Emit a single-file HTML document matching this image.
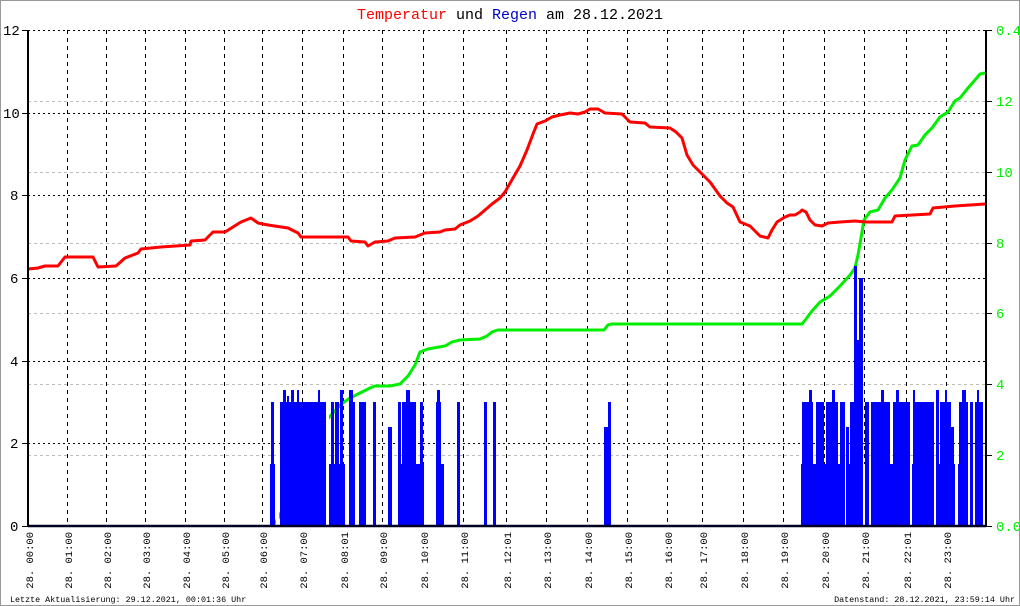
<!DOCTYPE html>
<html><head><meta charset="utf-8"><style>
html,body{margin:0;padding:0;background:#fff}
svg{display:block}
text{font-family:"Liberation Mono","DejaVu Sans Mono",monospace}
</style></head><body>
<svg width="1020" height="606" viewBox="0 0 1020 606" xmlns="http://www.w3.org/2000/svg">
<rect x="0.5" y="0.5" width="1019" height="605" fill="#fff" stroke="#999"/>
<text x="510" y="19" font-size="15" text-anchor="middle"><tspan fill="#f00">Temperatur</tspan> und <tspan fill="#00c">Regen</tspan> am 28.12.2021</text>
<g stroke="#bbb" stroke-width="1" stroke-dasharray="3,3">
<line x1="28" x2="986" y1="101.5" y2="101.5"/><line x1="28" x2="986" y1="172.5" y2="172.5"/><line x1="28" x2="986" y1="243.5" y2="243.5"/><line x1="28" x2="986" y1="313.5" y2="313.5"/><line x1="28" x2="986" y1="384.5" y2="384.5"/><line x1="28" x2="986" y1="455.5" y2="455.5"/>
</g>
<g stroke="#000" stroke-width="1" stroke-dasharray="2,3">
<line x1="28" x2="986" y1="30.5" y2="30.5"/><line x1="28" x2="986" y1="113.5" y2="113.5"/><line x1="28" x2="986" y1="195.5" y2="195.5"/><line x1="28" x2="986" y1="278.5" y2="278.5"/><line x1="28" x2="986" y1="361.5" y2="361.5"/><line x1="28" x2="986" y1="443.5" y2="443.5"/>
</g>
<g stroke="#000" stroke-width="1" stroke-dasharray="4,4">
<line y1="30" y2="526" x1="67.5" x2="67.5"/><line y1="30" y2="526" x1="106.5" x2="106.5"/><line y1="30" y2="526" x1="145.5" x2="145.5"/><line y1="30" y2="526" x1="185.5" x2="185.5"/><line y1="30" y2="526" x1="224.5" x2="224.5"/><line y1="30" y2="526" x1="262.5" x2="262.5"/><line y1="30" y2="526" x1="302.5" x2="302.5"/><line y1="30" y2="526" x1="343.5" x2="343.5"/><line y1="30" y2="526" x1="382.5" x2="382.5"/><line y1="30" y2="526" x1="423.5" x2="423.5"/><line y1="30" y2="526" x1="463.5" x2="463.5"/><line y1="30" y2="526" x1="506.5" x2="506.5"/><line y1="30" y2="526" x1="546.5" x2="546.5"/><line y1="30" y2="526" x1="587.5" x2="587.5"/><line y1="30" y2="526" x1="627.5" x2="627.5"/><line y1="30" y2="526" x1="667.5" x2="667.5"/><line y1="30" y2="526" x1="702.5" x2="702.5"/><line y1="30" y2="526" x1="743.5" x2="743.5"/><line y1="30" y2="526" x1="783.5" x2="783.5"/><line y1="30" y2="526" x1="824.5" x2="824.5"/><line y1="30" y2="526" x1="864.5" x2="864.5"/><line y1="30" y2="526" x1="906.5" x2="906.5"/><line y1="30" y2="526" x1="946.5" x2="946.5"/>
</g>
<polyline fill="none" stroke="#0e0" stroke-width="3" points="275,524 285,505 290,490 300,455 315,432 325,422 340,405 350,398 360,393 370,388 375,386 390,386 400,384 408,376 415,365 420,352 428,349 445,346 452,342 460,340 480,339 487,336 492,332 498,330 520,330 604,330 608,325 612,324 802,324 806,319 812,311 820,302 830,296 840,286 850,275 855,268 858,255 861,238 864,220 870,212 878,210 885,198 892,190 900,178 905,160 912,146 918,145 925,135 932,128 940,117 948,112 955,101 960,98 968,88 975,80 980,74 985,73"/>
<g fill="#00f">
<rect x="270" y="464" width="5" height="62"/><rect x="271" y="402" width="3" height="124"/>
<rect x="280" y="402" width="46" height="124"/><rect x="283" y="390" width="3" height="136"/><rect x="287" y="396" width="2" height="130"/>
<rect x="291" y="390" width="3" height="136"/><rect x="297" y="390" width="2" height="136"/>
<rect x="318" y="390" width="2" height="136"/>
<rect x="329" y="464" width="16" height="62"/>
<rect x="331" y="402" width="3" height="124"/><rect x="335" y="402" width="4" height="124"/><rect x="340" y="390" width="3" height="136"/>
<rect x="349" y="390" width="4" height="136"/><rect x="353" y="402" width="2" height="124"/><rect x="359" y="402" width="7" height="124"/>
<rect x="373" y="402" width="3" height="124"/><rect x="388" y="427" width="4" height="99"/>
<rect x="398" y="464" width="26" height="62"/>
<rect x="398" y="402" width="3" height="124"/><rect x="402" y="402" width="14" height="124"/><rect x="406" y="390" width="4" height="136"/><rect x="420" y="402" width="3" height="124"/>
<rect x="436" y="402" width="5" height="124"/><rect x="437" y="390" width="3" height="136"/><rect x="441" y="464" width="3" height="62"/>
<rect x="457" y="402" width="3" height="124"/><rect x="484" y="402" width="3" height="124"/><rect x="493" y="402" width="3" height="124"/>
<rect x="604" y="427" width="4" height="99"/><rect x="608" y="402" width="3" height="124"/>
<rect x="801" y="464" width="182" height="62"/>
<rect x="802" y="402" width="11" height="124"/><rect x="809" y="390" width="3" height="136"/>
<rect x="816" y="402" width="8" height="124"/><rect x="826" y="402" width="12" height="124"/><rect x="832" y="390" width="3" height="136"/><rect x="840" y="402" width="5" height="124"/>
<rect x="846" y="427" width="3" height="99"/><rect x="850" y="402" width="4" height="124"/>
<rect x="854" y="266" width="3" height="260"/><rect x="857" y="340" width="2" height="186"/><rect x="859" y="278" width="4" height="248"/>
<rect x="865" y="402" width="4" height="124"/><rect x="871" y="402" width="19" height="124"/><rect x="881" y="390" width="3" height="136"/>
<rect x="893" y="402" width="17" height="124"/><rect x="896" y="390" width="3" height="136"/>
<rect x="913" y="390" width="2" height="136"/><rect x="913" y="402" width="21" height="124"/>
<rect x="936" y="390" width="3" height="136"/>
<rect x="940" y="402" width="11" height="124"/><rect x="945" y="390" width="2" height="136"/><rect x="951" y="427" width="3" height="99"/>
<rect x="959" y="402" width="9" height="124"/><rect x="962" y="390" width="4" height="136"/><rect x="970" y="402" width="3" height="124"/><rect x="975" y="402" width="8" height="124"/><rect x="977" y="390" width="2" height="136"/>
</g>
<g fill="#fff">
<rect x="276" y="402" width="3" height="124"/><rect x="326" y="402" width="3" height="124"/>
<rect x="845" y="464" width="1" height="62"/><rect x="863" y="464" width="2" height="62"/><rect x="869" y="464" width="2" height="62"/><rect x="910" y="464" width="2" height="62"/><rect x="934" y="464" width="2" height="62"/><rect x="955" y="464" width="3" height="62"/><rect x="968" y="464" width="2" height="62"/><rect x="973" y="464" width="2" height="62"/>
</g>
<polyline fill="none" stroke="#f00" stroke-width="3" stroke-linejoin="round" points="28,269 38,268 45,266 58,266 65,257 81,257 93,257 98,267 116,266 125,258 138,253 141,249 161,247 190,245 191,241 205,240 213,232 225,232 241,222 251,218 258,223 268,225 288,228 298,233 301,237 348,237 351,241 365,242 368,246 375,242 388,241 395,238 415,237 425,233 440,232 445,230 455,229 460,225 470,221 478,216 485,210 492,204 500,198 505,192 513,178 520,166 527,150 533,134 537,124 545,121 552,117 560,115 570,113 578,114 585,112 590,109 598,109 605,113 622,114 630,122 645,123 650,127 670,128 676,132 682,138 687,155 693,165 700,172 710,182 720,196 727,203 733,207 740,222 750,226 760,236 768,238 772,230 777,222 785,217 790,215 795,215 800,212 802,210 806,212 810,220 815,225 822,226 828,223 840,222 855,221 866,222 875,222 892,222 895,216 930,214 933,208 955,206 970,205 985,204"/>
<line x1="28" y1="30" x2="28" y2="527" stroke="#000" stroke-width="2"/>
<line x1="986" y1="30" x2="986" y2="527" stroke="#000" stroke-width="2"/>
<line x1="28" y1="526" x2="986" y2="526" stroke="#002" stroke-width="2.5"/>
<g stroke="#000" stroke-width="1">
<line x1="22" x2="28" y1="30.5" y2="30.5"/><line x1="22" x2="28" y1="113.5" y2="113.5"/><line x1="22" x2="28" y1="195.5" y2="195.5"/><line x1="22" x2="28" y1="278.5" y2="278.5"/><line x1="22" x2="28" y1="361.5" y2="361.5"/><line x1="22" x2="28" y1="443.5" y2="443.5"/><line x1="22" x2="28" y1="526.5" y2="526.5"/>
<line x1="986" x2="992" y1="30.5" y2="30.5"/><line x1="986" x2="992" y1="101.5" y2="101.5"/><line x1="986" x2="992" y1="172.5" y2="172.5"/><line x1="986" x2="992" y1="243.5" y2="243.5"/><line x1="986" x2="992" y1="313.5" y2="313.5"/><line x1="986" x2="992" y1="384.5" y2="384.5"/><line x1="986" x2="992" y1="455.5" y2="455.5"/><line x1="986" x2="992" y1="526.5" y2="526.5"/>
</g>
<g font-size="14" fill="#000">
<text x="3" y="35">12</text><text x="3" y="118">10</text><text x="10" y="200">8</text><text x="10" y="283">6</text><text x="10" y="366">4</text><text x="10" y="448">2</text><text x="10" y="531">0</text>
</g>
<g font-size="14" fill="#0e0">
<text x="996" y="35">0.4</text><text x="996" y="106">12</text><text x="996" y="177">10</text><text x="996" y="248">8</text><text x="996" y="318">6</text><text x="996" y="389">4</text><text x="996" y="460">2</text><text x="996" y="531">0.0</text>
</g>
<g font-size="10.5" fill="#000" text-anchor="end">
<text transform="translate(33,532) rotate(-90)">28. 00:00</text>
<text transform="translate(72,532) rotate(-90)">28. 01:00</text>
<text transform="translate(111,532) rotate(-90)">28. 02:00</text>
<text transform="translate(150,532) rotate(-90)">28. 03:00</text>
<text transform="translate(190,532) rotate(-90)">28. 04:00</text>
<text transform="translate(229,532) rotate(-90)">28. 05:00</text>
<text transform="translate(267,532) rotate(-90)">28. 06:00</text>
<text transform="translate(307,532) rotate(-90)">28. 07:00</text>
<text transform="translate(348,532) rotate(-90)">28. 08:01</text>
<text transform="translate(387,532) rotate(-90)">28. 09:00</text>
<text transform="translate(428,532) rotate(-90)">28. 10:00</text>
<text transform="translate(468,532) rotate(-90)">28. 11:00</text>
<text transform="translate(511,532) rotate(-90)">28. 12:01</text>
<text transform="translate(551,532) rotate(-90)">28. 13:00</text>
<text transform="translate(592,532) rotate(-90)">28. 14:00</text>
<text transform="translate(632,532) rotate(-90)">28. 15:00</text>
<text transform="translate(672,532) rotate(-90)">28. 16:00</text>
<text transform="translate(707,532) rotate(-90)">28. 17:00</text>
<text transform="translate(748,532) rotate(-90)">28. 18:00</text>
<text transform="translate(788,532) rotate(-90)">28. 19:00</text>
<text transform="translate(829,532) rotate(-90)">28. 20:00</text>
<text transform="translate(869,532) rotate(-90)">28. 21:00</text>
<text transform="translate(911,532) rotate(-90)">28. 22:01</text>
<text transform="translate(951,532) rotate(-90)">28. 23:00</text>
</g>
<text x="10" y="602" font-size="8.4" fill="#000">Letzte Aktualisierung: 29.12.2021, 00:01:36 Uhr</text>
<text x="1015" y="602" font-size="8.4" fill="#000" text-anchor="end">Datenstand: 28.12.2021, 23:59:14 Uhr</text>
</svg>
</body></html>
